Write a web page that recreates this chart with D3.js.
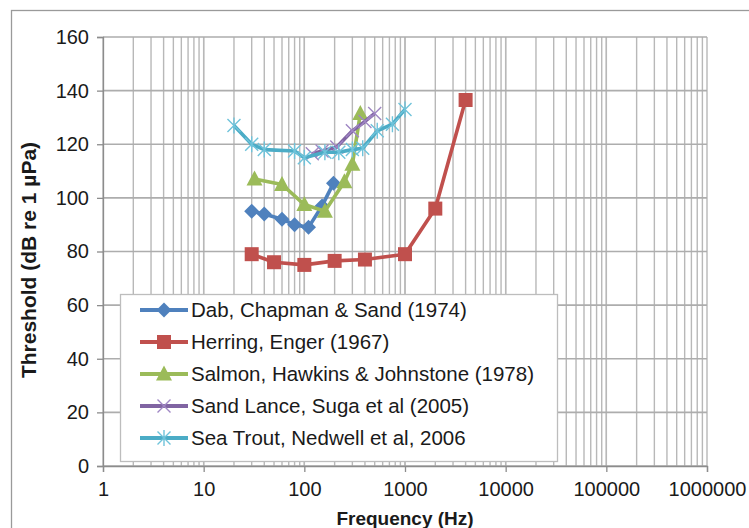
<html>
	<head>
		<meta content="text/html;charset=utf-8" http-equiv="Content-Type">
		<script src="https://d3js.org/d3.v7.min.js"></script>
		<style>
			body { margin: 0; background: #fff; }
			svg { display: block; }
			text { font-family: "Liberation Sans", Arial, sans-serif; fill: #1a1a1a; }
		</style>
	</head>
	<body>
		<svg id="chart"></svg>
		<script>

			// data (frequency Hz, threshold dB)
			var seriesNames = [
				"Dab, Chapman & Sand (1974)",
				"Herring, Enger (1967)",
				"Salmon, Hawkins & Johnstone (1978)",
				"Sand Lance, Suga et al (2005)",
				"Sea Trout, Nedwell et al, 2006"
			];
			var dab = [[30,95],[40,94],[60,92],[80,90],[110,89],[150,97],[195,105.5]];
			var herring = [[30,79],[50,76],[100,75],[200,76.5],[400,77],[1000,79],[2000,96],[4000,136.5]];
			var salmon = [[32,107],[60,105],[100,97.5],[160,95],[250,106],[300,112.5],[360,131.5]];
			var sandLance = [[120,116.5],[150,117.5],[210,119],[300,125],[400,128.5],[500,131.5]];
			var seaTrout = [[20,127],[30,120],[40,118],[80,117.5],[100,115],[160,117],[220,117],[300,118],[380,118.5],[530,125],[750,127.5],[1000,133]];
			var xTicks = [1,10,100,1000,10000,100000,1000000];
			var yTicks = [0,20,40,60,80,100,120,140,160];

			var colors = ["#4F81BD","#C0504D","#9BBB59","#8064A2","#4BACC6"];
			var markerColors = ["#4F81BD","#C0504D","#9BBB59","#9F86C4","#6FC3DA"];
			var markers = ["diamond","square","triangle","x","star"];
			var allSeries = [dab, herring, salmon, sandLance, seaTrout];

			var W = 749, H = 528;
			var plot = {left: 103, right: 707, top: 37, bottom: 466};

			var svg = d3.select("#chart").attr("width", W).attr("height", H);

			// outer chart border
			svg.append("rect")
				.attr("x", 11.5).attr("y", 10.5)
				.attr("width", W + 20).attr("height", H + 20)
				.attr("fill", "none")
				.style("stroke", "#9a9a9a")
				.style("stroke-width", 1.3);

			var x = d3.scaleLog().domain([1, 1000000]).range([plot.left, plot.right]);
			var y = d3.scaleLinear().domain([0, 160]).range([plot.bottom, plot.top]);

			// minor + major vertical grid
			var g = svg.append("g");
			for (var d = 1; d < 1000000; d *= 10) {
				for (var m = 1; m <= 10; m++) {
					var v = d * m;
					g.append("line")
						.attr("x1", x(v)).attr("x2", x(v))
						.attr("y1", plot.top).attr("y2", plot.bottom)
						.style("stroke", "#b8b8b8")
						.style("stroke-width", 1.4);
				}
			}
			// horizontal grid
			yTicks.forEach(function(t) {
				g.append("line")
					.attr("x1", plot.left).attr("x2", plot.right)
					.attr("y1", y(t)).attr("y2", y(t))
					.style("stroke", "#adadad")
					.style("stroke-width", 1.6);
			});

			// axes
			var xAxis = d3.axisBottom(x).tickValues(xTicks).tickFormat(d3.format("d")).tickSize(6).tickPadding(10);
			var yAxis = d3.axisLeft(y).tickValues(yTicks).tickSize(6).tickPadding(8);
			var gx = svg.append("g").attr("transform", "translate(0," + plot.bottom + ")").call(xAxis);
			var gy = svg.append("g").attr("transform", "translate(" + plot.left + ",0)").call(yAxis);
			[gx, gy].forEach(function(a) {
				a.select(".domain").style("stroke", "#8c8c8c").style("stroke-width", 1.3);
				a.selectAll(".tick line").style("stroke", "#8c8c8c").style("stroke-width", 1.3);
				a.selectAll(".tick text")
					.style("font-family", "'Liberation Sans', Arial, sans-serif")
					.style("font-size", "20px")
					.style("fill", "#1a1a1a");
			});

			// axis titles
			svg.append("text")
				.attr("x", (plot.left + plot.right) / 2)
				.attr("y", 525)
				.style("text-anchor", "middle")
				.style("font-weight", "bold")
				.style("font-size", "19px")
				.text("Frequency (Hz)");
			svg.append("text")
				.attr("transform", "translate(36," + 260 + ") rotate(-90)")
				.style("text-anchor", "middle")
				.style("font-weight", "bold")
				.style("font-size", "21px")
				.text("Threshold (dB re 1 µPa)");

			function markerPath(kind) {
				if (kind == "diamond") return "M0,-7.5L7.5,0L0,7.5L-7.5,0Z";
				if (kind == "square") return "M-7,-7H7V7H-7Z";
				if (kind == "triangle") return "M0,-8.5L8,6.5L-8,6.5Z";
				if (kind == "x") return "M-6.5,-6.5L6.5,6.5M-6.5,6.5L6.5,-6.5";
				return "M-6.5,-6.5L6.5,6.5M-6.5,6.5L6.5,-6.5M0,-8V8";
			}
			function drawMarker(sel, kind, i) {
				var filled = (kind == "diamond" || kind == "square" || kind == "triangle");
				sel.append("path")
					.attr("d", markerPath(kind))
					.attr("fill", filled ? markerColors[i] : "none")
					.style("stroke", markerColors[i])
					.style("stroke-width", filled ? 0 : 1.4);
			}

			var line = d3.line()
				.x(function(p) { return x(p[0]); })
				.y(function(p) { return y(p[1]); });

			allSeries.forEach(function(s, i) {
				var sg = svg.append("g");
				sg.append("path")
					.datum(s)
					.attr("d", line)
					.attr("fill", "none")
					.style("stroke", colors[i])
					.style("stroke-width", 3.6)
					.style("stroke-linejoin", "round");
				s.forEach(function(p) {
					var mg = sg.append("g").attr("transform", "translate(" + x(p[0]) + "," + y(p[1]) + ")");
					drawMarker(mg, markers[i], i);
				});
			});

			// legend
			var lg = svg.append("g");
			lg.append("rect")
				.attr("x", 120.5).attr("y", 294.5)
				.attr("width", 437).attr("height", 167)
				.attr("fill", "#fff")
				.style("stroke", "#bdbdbd")
				.style("stroke-width", 1.3);
			seriesNames.forEach(function(name, i) {
				var ly = 310 + i * 32;
				lg.append("line")
					.attr("x1", 140).attr("x2", 188)
					.attr("y1", ly).attr("y2", ly)
					.style("stroke", colors[i])
					.style("stroke-width", 4);
				var mg = lg.append("g").attr("transform", "translate(164," + ly + ")");
				drawMarker(mg, markers[i], i);
				lg.append("text")
					.attr("x", 191)
					.attr("y", ly + 7)
					.style("font-size", "20.5px")
					.text(name);
			});

		</script>
	</body>
</html>
